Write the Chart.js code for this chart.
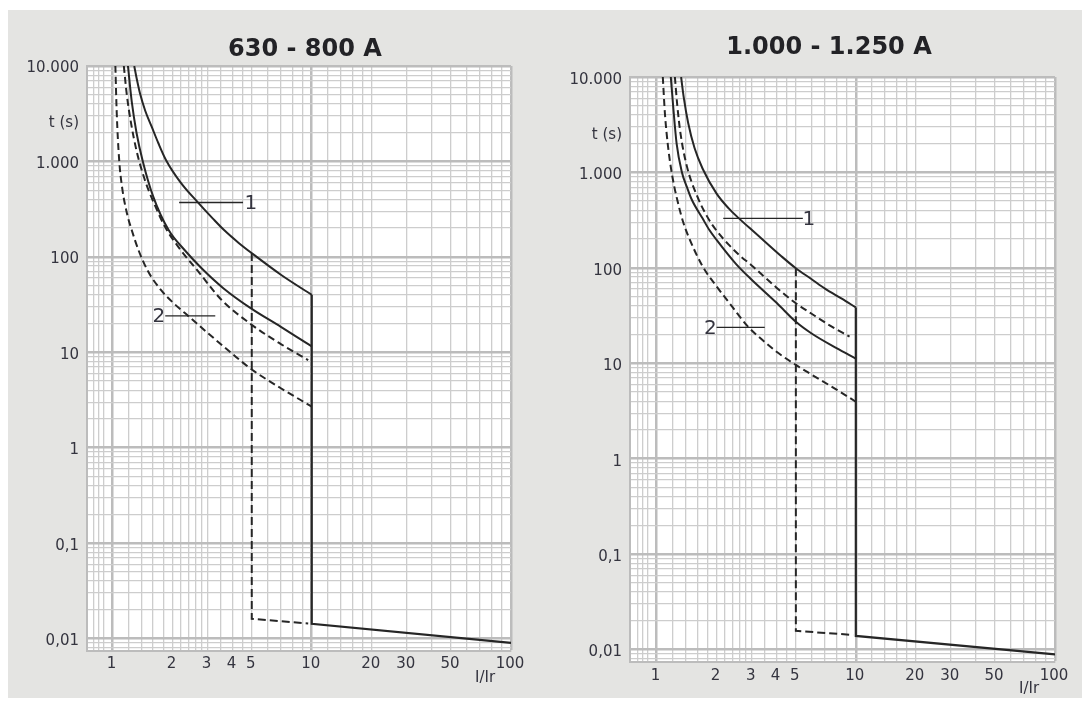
<!DOCTYPE html>
<html>
<head>
<meta charset="utf-8">
<title>Tripping curves</title>
<script src="https://cdn.jsdelivr.net/npm/chart.js@4/dist/chart.umd.min.js"></script>
<style>
  html, body { margin: 0; padding: 0; background: #ffffff; }
  body { width: 1082px; height: 704px; position: relative; overflow: hidden; }
  #panel { position: absolute; left: 8px; top: 10px; right: 0; bottom: 6px; background: #e4e4e2; }
  canvas { position: absolute; top: 0; }
  #chart-left { left: 0; }
  #chart-right { left: 541px; }
</style>
</head>
<body>
<div id="panel"></div>
<canvas id="chart-left" width="541" height="704"></canvas>
<canvas id="chart-right" width="541" height="704"></canvas>
<script>
// Axis ticks (shared by both panels)
const xGridValues = [0.8, 0.85, 0.9, 1, 1.2, 1.4, 1.6, 1.8, 2, 2.2, 2.4, 2.6, 2.8, 3, 3.5, 4, 4.5, 5, 6, 7, 8, 9,
  10, 12, 14, 16, 18, 20, 30, 40, 50, 60, 70, 80, 90, 100];
const xLabelValues = [1, 2, 3, 4, 5, 10, 20, 30, 50, 100];
const xLabelTexts = ['1', '2', '3', '4', '5', '10', '20', '30', '50', '100'];
const yGridSteps = [1, 2, 3, 4, 5, 6, 7, 8, 9];
const yGridDecades = [0.001, 0.01, 0.1, 1, 10, 100, 1000, 10000];
const yLabelValues = [10000, 1000, 100, 10, 1, 0.1, 0.01];
const yLabelTexts = ['10.000', '1.000', '100', '10', '1', '0,1', '0,01'];
const xAxisName = 'I/Ir';
const xAxisNameAt = 75;
const yAxisName = 't (s)';
const yAxisNameAt = 2650;

// 630 - 800 A
const leftTitle = '630 - 800 A';
const left1UpperX = [1.286, 1.33, 1.374, 1.46, 1.573, 1.7, 1.855, 2.2, 2.69, 3.2, 3.62, 4.3, 5.13, 7, 10];
const left1UpperT = [10000, 7000, 5176, 3400, 2314, 1550, 1037, 600, 370, 250, 192, 140, 105, 65, 40];
const left1LowerX = [1.196, 1.25, 1.32, 1.42, 1.6, 1.91, 2.3, 2.8, 3.6, 5, 7, 10];
const left1LowerT = [10000, 4200, 2000, 1000, 430, 192, 118, 76, 47, 28.5, 18.5, 11.5];
const left2UpperX = [1.14, 1.18, 1.24, 1.32, 1.45, 1.62, 1.85, 2.2, 2.7, 3.5, 5, 7, 9.6];
const left2UpperT = [10000, 5000, 2500, 1300, 650, 360, 200, 118, 70, 36, 19.4, 12.2, 8.3];
const left2LowerX = [1.034, 1.05, 1.08, 1.12, 1.18, 1.25, 1.35, 1.5, 1.75, 2.05, 2.43, 3, 4, 5, 7, 10];
const left2LowerT = [10000, 3300, 1050, 520, 290, 190, 118, 72, 45, 32, 23.5, 16, 9.6, 6.6, 4.2, 2.7];
const leftInstX = [5, 5, 9.6];
const leftInstT = [110, 0.0161, 0.0144];
const leftShortX = [10, 10, 100];
const leftShortT = [40, 0.0143, 0.009];
const leftMarkTexts = ['1', '2'];
const leftMarkX = [4.95, 1.71];
const leftMarkT = [371, 24.1];
const leftLeaderFromX = [2.16, 1.84];
const leftLeaderToX = [4.52, 3.28];

// 1.000 - 1.250 A
const rightTitle = '1.000 - 1.250 A';
const right1UpperX = [1.327, 1.37, 1.44, 1.55, 1.7, 2.0, 2.3, 2.59, 3.0, 3.5, 4.2, 5, 6, 7, 8.5, 10];
const right1UpperT = [10000, 6000, 3300, 1800, 1100, 600, 420, 330, 250, 188, 134, 99, 76, 60.5, 47.5, 38.5];
const right1LowerX = [1.178, 1.21, 1.26, 1.34, 1.42, 1.5, 1.7, 1.84, 2.0, 2.5, 3, 4, 5, 6, 8, 10];
const right1LowerT = [10000, 5000, 2000, 1000, 700, 520, 330, 249, 196, 110, 75, 43, 27.2, 20.5, 14.4, 11.2];
const right2UpperX = [1.235, 1.27, 1.32, 1.42, 1.6, 1.8, 2.0, 2.3, 2.6, 3.0, 4.0, 5, 6, 7.5, 9.3];
const right2UpperT = [10000, 5000, 2500, 1150, 560, 340, 245, 175, 136, 106, 62, 42.5, 33, 24.5, 19];
const right2LowerX = [1.074, 1.1, 1.14, 1.2, 1.28, 1.36, 1.449, 1.7, 2.0, 2.4, 2.86, 3.4, 4, 5, 6, 8, 10];
const right2LowerT = [10000, 4200, 1900, 900, 480, 300, 210, 104, 64, 39, 24.5, 17.5, 13.2, 9.6, 7.6, 5.3, 3.95];
const rightInstX = [5, 5, 9.7];
const rightInstT = [99, 0.0157, 0.0142];
const rightShortX = [10, 10, 100];
const rightShortT = [38.5, 0.0139, 0.0089];
const rightMarkTexts = ['1', '2'];
const rightMarkX = [5.81, 1.86];
const rightMarkT = [330, 23.8];
const rightLeaderFromX = [2.16, 2.0];
const rightLeaderToX = [5.42, 3.49];

// Styles
const inkColor = '#262626';
const textColor = '#34343f';
const gridMinor = '#cdcdcd';
const gridMajor = '#bcbcbc';
const fontFamily = '"DejaVu Sans", "Liberation Sans", sans-serif';

function sameValue(a, b) {
  return Math.abs(a - b) <= Math.abs(b) * 1e-9;
}

function labelFor(value, values, texts) {
  const i = values.findIndex(v => sameValue(value, v));
  return i >= 0 ? texts[i] : '';
}

function isDecade(value) {
  const e = Math.log10(value);
  return Math.abs(e - Math.round(e)) < 1e-9;
}

function toPoints(xs, ts) {
  return xs.map((x, i) => ({ x: x, y: ts[i] }));
}

function lineSet(xs, ts, dash, smooth, width) {
  return {
    data: toPoints(xs, ts),
    showLine: true,
    borderColor: inkColor,
    borderWidth: width,
    borderDash: dash,
    cubicInterpolationMode: smooth ? 'monotone' : 'default',
    tension: 0,
    pointRadius: 0,
    pointHoverRadius: 0,
    fill: false
  };
}

// White plot area
const plotBackground = {
  id: 'plotBackground',
  beforeDraw(chart) {
    const { ctx, chartArea: a } = chart;
    ctx.save();
    ctx.fillStyle = '#ffffff';
    ctx.fillRect(a.left, a.top, a.right - a.left, a.bottom - a.top);
    ctx.restore();
  }
};

// Panel title, placed like the original sheet
const panelTitle = {
  id: 'panelTitle',
  afterDraw(chart, args, opts) {
    const ctx = chart.ctx;
    ctx.save();
    ctx.font = 'bold 24px ' + fontFamily;
    ctx.fillStyle = '#222226';
    ctx.textAlign = 'center';
    ctx.textBaseline = 'middle';
    ctx.fillText(opts.text, opts.x, opts.y);
    ctx.restore();
  }
};

// Curve numbers "1" and "2" at data positions
const curveMarks = {
  id: 'curveMarks',
  afterDatasetsDraw(chart, args, opts) {
    const { ctx, scales } = chart;
    ctx.save();
    ctx.font = '20px ' + fontFamily;
    ctx.fillStyle = textColor;
    ctx.textAlign = 'center';
    ctx.textBaseline = 'middle';
    opts.texts.forEach((t, i) => {
      ctx.fillText(t, scales.x.getPixelForValue(opts.xs[i]), scales.y.getPixelForValue(opts.ts[i]) + 1);
    });
    ctx.restore();
  }
};

function buildChart(canvasId, p) {
  const yGridValues = yGridDecades
    .flatMap(d => yGridSteps.map(s => s * d))
    .filter(v => v >= p.yMin && v <= 10000);

  const datasets = [
    lineSet(p.upper1X, p.upper1T, [], true, 2),
    lineSet(p.lower1X, p.lower1T, [], true, 2),
    lineSet(p.upper2X, p.upper2T, [7, 4], true, 2),
    lineSet(p.lower2X, p.lower2T, [7, 4], true, 2),
    lineSet(p.instX, p.instT, [8, 4], false, 2),
    lineSet(p.shortX, p.shortT, [], false, 2.2)
  ];
  p.leaderFromX.forEach((x0, i) => {
    datasets.push(lineSet([x0, p.leaderToX[i]], [p.markT[i], p.markT[i]], [], false, 1.3));
  });

  return new Chart(document.getElementById(canvasId), {
    type: 'scatter',
    data: { datasets: datasets },
    plugins: [plotBackground, panelTitle, curveMarks],
    options: {
      responsive: false,
      animation: false,
      events: [],
      layout: { padding: p.padding },
      plugins: {
        legend: { display: false },
        tooltip: { enabled: false },
        panelTitle: { text: p.title, x: p.titleX, y: p.titleY },
        curveMarks: { texts: p.markTexts, xs: p.markX, ts: p.markT }
      },
      scales: {
        x: {
          type: 'logarithmic',
          bounds: 'data',
          min: p.xMin,
          max: 100,
          afterBuildTicks: scale => {
            scale.ticks = xGridValues.concat([xAxisNameAt]).sort((a, b) => a - b).map(v => ({ value: v }));
          },
          afterFit: scale => { scale.height = 40; },
          ticks: {
            autoSkip: false,
            maxRotation: 0,
            minRotation: 0,
            padding: 7,
            labelOffset: -1,
            color: textColor,
            font: { family: fontFamily, size: 15, lineHeight: 0.9 },
            callback: value => sameValue(value, xAxisNameAt) ? ['', xAxisName] : labelFor(value, xLabelValues, xLabelTexts)
          },
          grid: {
            drawTicks: false,
            color: ctx => sameValue(ctx.tick.value, xAxisNameAt) ? 'rgba(0,0,0,0)' : (isDecade(ctx.tick.value) ? gridMajor : gridMinor),
            lineWidth: ctx => isDecade(ctx.tick.value) ? 2.5 : 1.3
          },
          border: { color: gridMajor, width: 2 }
        },
        y: {
          type: 'logarithmic',
          bounds: 'data',
          min: p.yMin,
          max: 10000,
          afterBuildTicks: scale => {
            scale.ticks = yGridValues.concat([yAxisNameAt]).sort((a, b) => a - b).map(v => ({ value: v }));
          },
          afterFit: scale => { scale.width = p.yAxisWidth; },
          ticks: {
            autoSkip: false,
            padding: 8,
            labelOffset: p.yLabelOffset,
            color: textColor,
            font: { family: fontFamily, size: 15 },
            callback: value => sameValue(value, yAxisNameAt) ? yAxisName : labelFor(value, yLabelValues, yLabelTexts)
          },
          grid: {
            drawTicks: false,
            color: ctx => sameValue(ctx.tick.value, yAxisNameAt) ? 'rgba(0,0,0,0)' : (isDecade(ctx.tick.value) ? gridMajor : gridMinor),
            lineWidth: ctx => isDecade(ctx.tick.value) ? 2.5 : 1.3
          },
          border: { color: gridMajor, width: 2 }
        }
      }
    }
  });
}

buildChart('chart-left', {
  title: leftTitle, titleX: 305, titleY: 50,
  xMin: 0.745, yMin: 0.0075,
  yAxisWidth: 87, yLabelOffset: 2.5,
  padding: { left: 0, right: 30, top: 66, bottom: 13.5 },
  upper1X: left1UpperX, upper1T: left1UpperT,
  lower1X: left1LowerX, lower1T: left1LowerT,
  upper2X: left2UpperX, upper2T: left2UpperT,
  lower2X: left2LowerX, lower2T: left2LowerT,
  instX: leftInstX, instT: leftInstT,
  shortX: leftShortX, shortT: leftShortT,
  markTexts: leftMarkTexts, markX: leftMarkX, markT: leftMarkT,
  leaderFromX: leftLeaderFromX, leaderToX: leftLeaderToX
});

buildChart('chart-right', {
  title: rightTitle, titleX: 288, titleY: 48,
  xMin: 0.735, yMin: 0.0074,
  yAxisWidth: 89, yLabelOffset: 3,
  padding: { left: 0, right: 27, top: 77, bottom: 2 },
  upper1X: right1UpperX, upper1T: right1UpperT,
  lower1X: right1LowerX, lower1T: right1LowerT,
  upper2X: right2UpperX, upper2T: right2UpperT,
  lower2X: right2LowerX, lower2T: right2LowerT,
  instX: rightInstX, instT: rightInstT,
  shortX: rightShortX, shortT: rightShortT,
  markTexts: rightMarkTexts, markX: rightMarkX, markT: rightMarkT,
  leaderFromX: rightLeaderFromX, leaderToX: rightLeaderToX
});
</script>
</body>
</html>
